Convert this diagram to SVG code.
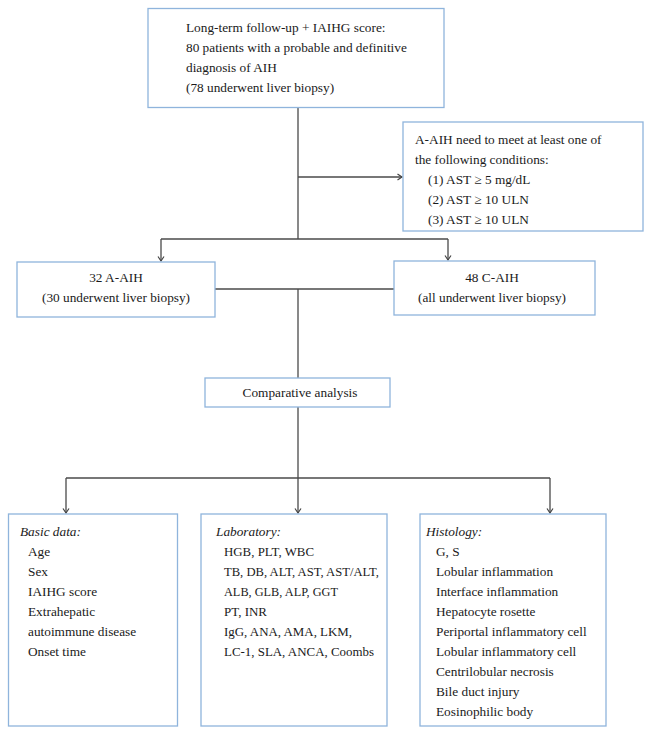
<svg xmlns="http://www.w3.org/2000/svg" width="651" height="735" viewBox="0 0 651 735">
<defs>
<marker id="arr" markerWidth="8" markerHeight="8" refX="6" refY="4" orient="auto" markerUnits="userSpaceOnUse">
<path d="M1.5,1 L6,4 L1.5,7" fill="none" stroke="#444" stroke-width="1.2"/>
</marker>
<style>
.box{fill:#fff;stroke:#8fb4dc;stroke-width:1.3}
.ln{fill:none;stroke:#4a4a4a;stroke-width:1.3}
text{font-family:"Liberation Serif","Times New Roman",serif;font-size:13.3px;fill:#1a1a1a}
.c{text-anchor:middle}
.i{font-style:italic}
</style>
</defs>
<rect width="651" height="735" fill="#fff"/>
<g id="connectors">
<path class="ln" d="M298,107 V239"/>
<path class="ln" d="M298,177 H402" marker-end="url(#arr)"/>
<path class="ln" d="M161,239 H448"/>
<path class="ln" d="M161,239 V261" marker-end="url(#arr)"/>
<path class="ln" d="M448,239 V260" marker-end="url(#arr)"/>
<path class="ln" d="M215,289 H394"/>
<path class="ln" d="M298,289 V378"/>
<path class="ln" d="M298,407 V478"/>
<path class="ln" d="M66,478 H550"/>
<path class="ln" d="M66,478 V513" marker-end="url(#arr)"/>
<path class="ln" d="M298,478 V513" marker-end="url(#arr)"/>
<path class="ln" d="M550,478 V513" marker-end="url(#arr)"/>
</g>
<g id="top">
<rect class="box" x="148" y="8.5" width="296" height="99"/>
<text x="186" y="32">Long-term follow-up + IAIHG score:</text>
<text x="186" y="52">80 patients with a probable and definitive</text>
<text x="186" y="72">diagnosis of AIH</text>
<text x="186" y="92">(78 underwent liver biopsy)</text>
</g>
<g id="conditions">
<rect class="box" x="403" y="122" width="240" height="109"/>
<text x="415" y="144">A-AIH need to meet at least one of</text>
<text x="415" y="164">the following conditions:</text>
<text x="428" y="184">(1) AST ≥ 5 mg/dL</text>
<text x="428" y="204">(2) AST ≥ 10 ULN</text>
<text x="428" y="224">(3) AST ≥ 10 ULN</text>
</g>
<g id="aaih">
<rect class="box" x="17" y="262" width="198" height="55"/>
<text class="c" x="116" y="282">32 A-AIH</text>
<text class="c" x="116" y="302">(30 underwent liver biopsy)</text>
</g>
<g id="caih">
<rect class="box" x="394" y="261" width="201" height="54"/>
<text class="c" x="492" y="282">48 C-AIH</text>
<text class="c" x="492" y="302">(all underwent liver biopsy)</text>
</g>
<g id="comparative">
<rect class="box" x="205" y="378" width="185" height="29"/>
<text class="c" x="300" y="397">Comparative analysis</text>
</g>
<g id="basic">
<rect class="box" x="8.5" y="514" width="169" height="212"/>
<text class="i" x="20" y="536">Basic data:</text>
<text x="28" y="556">Age</text>
<text x="28" y="576">Sex</text>
<text x="28" y="596">IAIHG score</text>
<text x="28" y="616">Extrahepatic</text>
<text x="28" y="636">autoimmune disease</text>
<text x="28" y="656">Onset time</text>
</g>
<g id="laboratory">
<rect class="box" x="201" y="514" width="186" height="212"/>
<text class="i" x="216" y="536">Laboratory:</text>
<text x="224" y="556" textLength="90" lengthAdjust="spacingAndGlyphs">HGB, PLT, WBC</text>
<text x="224" y="576" textLength="155" lengthAdjust="spacingAndGlyphs">TB, DB, ALT, AST, AST/ALT,</text>
<text x="224" y="596" textLength="114" lengthAdjust="spacingAndGlyphs">ALB, GLB, ALP, GGT</text>
<text x="224" y="616" textLength="43" lengthAdjust="spacingAndGlyphs">PT, INR</text>
<text x="224" y="636" textLength="128" lengthAdjust="spacingAndGlyphs">IgG, ANA, AMA, LKM,</text>
<text x="224" y="656" textLength="150" lengthAdjust="spacingAndGlyphs">LC-1, SLA, ANCA, Coombs</text>
</g>
<g id="histology">
<rect class="box" x="420" y="514" width="186" height="212"/>
<text class="i" x="426" y="536">Histology:</text>
<text x="436" y="556">G, S</text>
<text x="436" y="576">Lobular inflammation</text>
<text x="436" y="596">Interface inflammation</text>
<text x="436" y="616">Hepatocyte rosette</text>
<text x="436" y="636">Periportal inflammatory cell</text>
<text x="436" y="656">Lobular inflammatory cell</text>
<text x="436" y="676">Centrilobular necrosis</text>
<text x="436" y="696">Bile duct injury</text>
<text x="436" y="716">Eosinophilic body</text>
</g>
</svg>
